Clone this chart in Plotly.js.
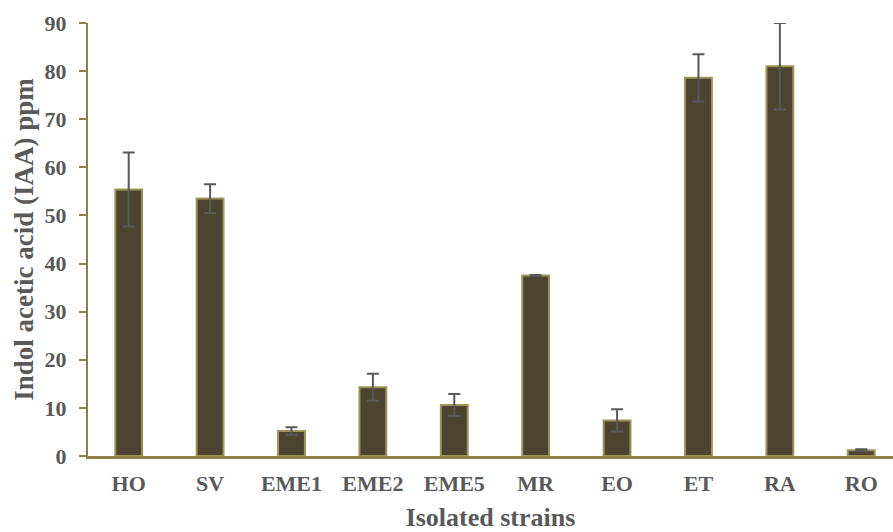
<!DOCTYPE html>
<html><head><meta charset="utf-8">
<script src="https://cdn.plot.ly/plotly-3.0.1.min.js"></script>
<style>html,body{margin:0;padding:0;background:#fff}</style>
</head><body><div id="chart" style="width:893px;height:532px"></div>
<script>
const strains = ["HO","SV","EME1","EME2","EME5","MR","EO","ET","RA","RO"];
const iaa = [55.4, 53.5, 5.2, 14.3, 10.6, 37.5, 7.4, 78.6, 81.0, 1.2];
const iaaErr = [7.7, 3.0, 0.8, 2.8, 2.3, 0.1, 2.3, 4.9, 9.0, 0.2];
const yTicks = [0,10,20,30,40,50,60,70,80,90];

const font = {family: "Liberation Serif, Times New Roman, serif", color: "#595959"};
const trace = {
  type: "bar", x: strains, y: iaa, width: 0.33,
  marker: {color: "#4a4430", line: {color: "#9c9558", width: 2}},
  error_y: {type: "data", array: iaaErr, visible: true, color: "#595959", thickness: 2, width: 6},
  hoverinfo: "x+y"
};
const layout = {
  width: 893, height: 532,
  margin: {l: 88, r: 0, t: 23, b: 75.5},
  paper_bgcolor: "#fff", plot_bgcolor: "#fff",
  showlegend: false,
  bargap: 0.67,
  xaxis: {
    type: "category", range: [-0.5, 9.39],
    showline: true, linecolor: "#8c8048", linewidth: 3,
    ticks: "", showgrid: false, zeroline: false,
    tickfont: {...font, size: 22, weight: "bold"},
    ticklabelstandoff: 6,
    title: {text: "<b>Isolated strains</b>", font: {...font, size: 26}, standoff: 15}
  },
  yaxis: {
    range: [0, 90], tickvals: yTicks, ticktext: yTicks.map(String),
    showline: true, linecolor: "#8c8048", linewidth: 2,
    ticks: "outside", ticklen: 7, tickcolor: "#8c8048", tickwidth: 2,
    showgrid: false, zeroline: false,
    tickfont: {...font, size: 22, weight: "bold"},
    ticklabelstandoff: 8,
    title: {text: "<b>Indol acetic acid (IAA) ppm</b>", font: {...font, size: 27}, standoff: 3}
  }
};
Plotly.newPlot("chart", [trace], layout, {displayModeBar: false, staticPlot: true});
</script></body></html>
